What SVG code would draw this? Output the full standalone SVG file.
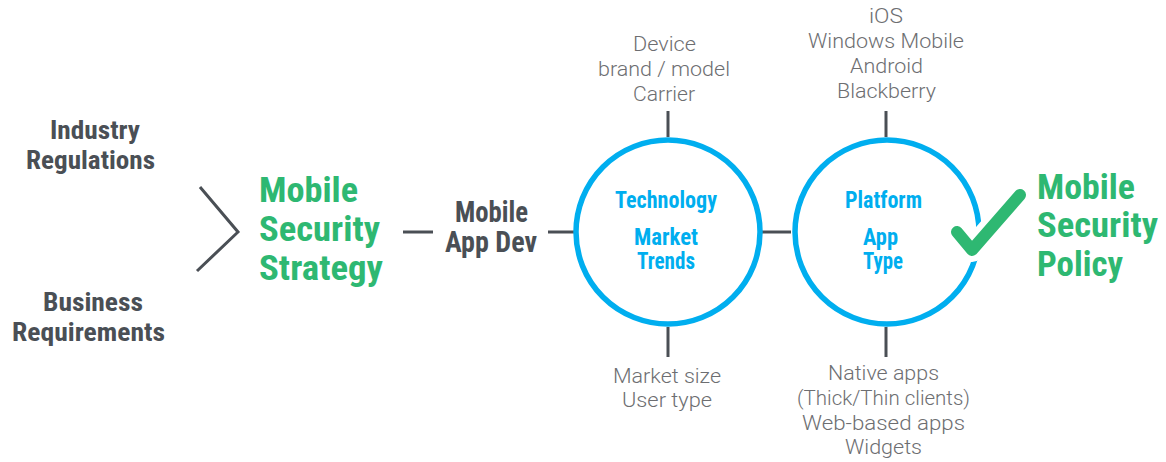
<svg xmlns="http://www.w3.org/2000/svg" width="1166" height="462" viewBox="0 0 1166 462">
<style>
.dark{font-family:"Liberation Sans Narrow","Roboto Condensed","Liberation Sans",sans-serif;font-weight:bold;fill:#4a4f55;font-size:26px}
.green{font-family:"Liberation Sans Narrow","Roboto Condensed","Liberation Sans",sans-serif;font-weight:bold;fill:#2eb872;font-size:35px}
.blue{font-family:"Liberation Sans Narrow","Roboto Condensed","Liberation Sans",sans-serif;font-weight:bold;fill:#00aeef;font-size:23px}
.light{font-family:"Roboto","Liberation Sans",sans-serif;font-weight:300;fill:#6d6e71;font-size:20px}
.conn{stroke:#4a4f55;stroke-width:3;fill:none}
.ring{stroke:#00aeef;stroke-width:5.5;fill:none}
</style>
<rect width="1166" height="462" fill="#ffffff"/>
<g id="connectors">
<polyline class="conn" points="200,187 238,232 197,271"/>
<line class="conn" x1="403" y1="232" x2="433" y2="232"/>
<line class="conn" x1="548" y1="232" x2="574" y2="232"/>
<line class="conn" x1="762" y1="232" x2="791" y2="232"/>
<line class="conn" x1="668" y1="111" x2="668" y2="137"/>
<line class="conn" x1="668" y1="327" x2="668" y2="357"/>
<line class="conn" x1="886" y1="111" x2="886" y2="137"/>
<line class="conn" x1="886" y1="327" x2="886" y2="357"/>
</g>
<g id="industry-regulations">
<text class="dark" x="50" y="139" textLength="90" lengthAdjust="spacingAndGlyphs">Industry</text>
<text class="dark" x="26" y="169" textLength="129" lengthAdjust="spacingAndGlyphs">Regulations</text>
</g>
<g id="business-requirements">
<text class="dark" x="43" y="311" textLength="100" lengthAdjust="spacingAndGlyphs">Business</text>
<text class="dark" x="12" y="341" textLength="153" lengthAdjust="spacingAndGlyphs">Requirements</text>
</g>
<g id="mobile-security-strategy">
<text class="green" x="259" y="202" textLength="99" lengthAdjust="spacingAndGlyphs">Mobile</text>
<text class="green" x="259" y="241" textLength="121" lengthAdjust="spacingAndGlyphs">Security</text>
<text class="green" x="259" y="280" textLength="124" lengthAdjust="spacingAndGlyphs">Strategy</text>
</g>
<g id="mobile-app-dev">
<text class="dark" style="font-size:29px" x="455" y="222" textLength="73" lengthAdjust="spacingAndGlyphs">Mobile</text>
<text class="dark" style="font-size:29px" x="445" y="252" textLength="92" lengthAdjust="spacingAndGlyphs">App Dev</text>
</g>
<g id="technology-circle">
<circle class="ring" cx="668" cy="232" r="92"/>
<text class="blue" x="615" y="208" textLength="102" lengthAdjust="spacingAndGlyphs">Technology</text>
<text class="blue" x="634" y="245" textLength="64" lengthAdjust="spacingAndGlyphs">Market</text>
<text class="blue" x="637" y="269" textLength="58" lengthAdjust="spacingAndGlyphs">Trends</text>
</g>
<g id="device-labels">
<text class="light" x="633" y="51" textLength="63" lengthAdjust="spacingAndGlyphs">Device</text>
<text class="light" x="598" y="76" textLength="132" lengthAdjust="spacingAndGlyphs">brand / model</text>
<text class="light" x="633" y="101" textLength="62" lengthAdjust="spacingAndGlyphs">Carrier</text>
</g>
<g id="market-labels">
<text class="light" x="613" y="383" textLength="108" lengthAdjust="spacingAndGlyphs">Market size</text>
<text class="light" x="622" y="407" textLength="90" lengthAdjust="spacingAndGlyphs">User type</text>
</g>
<g id="platform-circle">
<circle class="ring" cx="887" cy="232" r="92"/>
<text class="blue" x="845" y="208" textLength="77" lengthAdjust="spacingAndGlyphs">Platform</text>
<text class="blue" x="863" y="245" textLength="35" lengthAdjust="spacingAndGlyphs">App</text>
<text class="blue" x="863" y="269" textLength="40" lengthAdjust="spacingAndGlyphs">Type</text>
</g>
<g id="platform-labels">
<text class="light" x="869" y="23" textLength="34" lengthAdjust="spacingAndGlyphs">iOS</text>
<text class="light" x="808" y="48" textLength="156" lengthAdjust="spacingAndGlyphs">Windows Mobile</text>
<text class="light" x="850" y="73" textLength="73" lengthAdjust="spacingAndGlyphs">Android</text>
<text class="light" x="837" y="98" textLength="99" lengthAdjust="spacingAndGlyphs">Blackberry</text>
</g>
<g id="apptype-labels">
<text class="light" x="828" y="380" textLength="111" lengthAdjust="spacingAndGlyphs">Native apps</text>
<text class="light" x="797" y="405" textLength="173" lengthAdjust="spacingAndGlyphs">(Thick/Thin clients)</text>
<text class="light" x="802" y="430" textLength="163" lengthAdjust="spacingAndGlyphs">Web-based apps</text>
<text class="light" x="845" y="454" textLength="77" lengthAdjust="spacingAndGlyphs">Widgets</text>
</g>
<g id="checkmark">
<polyline points="957,232 972,250 1020,195" fill="none" stroke="#ffffff" stroke-width="24" stroke-linecap="round" stroke-linejoin="round"/>
<polyline points="957,232 972,250 1020,195" fill="none" stroke="#2eb872" stroke-width="12" stroke-linecap="round" stroke-linejoin="round"/>
</g>
<g id="mobile-security-policy">
<text class="green" x="1037" y="199" textLength="98" lengthAdjust="spacingAndGlyphs">Mobile</text>
<text class="green" x="1037" y="237" textLength="121" lengthAdjust="spacingAndGlyphs">Security</text>
<text class="green" x="1037" y="276" textLength="86" lengthAdjust="spacingAndGlyphs">Policy</text>
</g>
</svg>
